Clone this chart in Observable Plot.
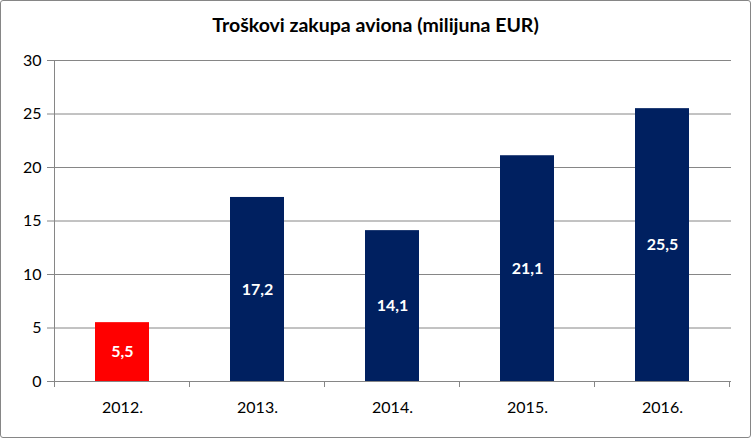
<!DOCTYPE html>
<html>
<head>
<meta charset="utf-8">
<script src="https://cdn.jsdelivr.net/npm/d3@7"></script>
<script src="https://cdn.jsdelivr.net/npm/@observablehq/plot@0.6"></script>
<style>
  body { margin: 0; background: #fff; }
  #wrap { position: relative; width: 751px; height: 438px; font-family: Lato, "Open Sans", sans-serif; }
  #title { position: absolute; top: 13px; left: 0; width: 751px; text-align: center; font-weight: bold; font-size: 19.5px; color: #000; }
  #frame { position: absolute; left: 0; top: 0; width: 749px; height: 436px; border: 1px solid #868686; border-radius: 3px; pointer-events: none; }
  #chart { position: absolute; left: 0; top: 0; }
</style>
</head>
<body>
<div id="wrap">
  <div id="chart"></div>
  <div id="title">Troškovi zakupa aviona (milijuna EUR)</div>
  <div id="frame"></div>
</div>
<script>
const years = ["2012.", "2013.", "2014.", "2015.", "2016."];
const values = [5.5, 17.2, 14.1, 21.1, 25.5];
const labels = ["5,5", "17,2", "14,1", "21,1", "25,5"];
const colors = ["#FF0000", "#002060", "#002060", "#002060", "#002060"];
const yTicks = [0, 5, 10, 15, 20, 25, 30];

const data = years.map((y, i) => ({year: y, value: values[i], label: labels[i], color: colors[i]}));

const chart = Plot.plot({
  width: 751,
  height: 438,
  marginLeft: 52,
  marginRight: 20,
  marginTop: 60,
  marginBottom: 57,
  style: {fontFamily: "Lato, 'Open Sans', sans-serif", fontSize: "16px", color: "#000", background: "transparent"},
  x: {domain: years, paddingInner: 0.6, paddingOuter: 0.3, label: null},
  y: {domain: [0, 30], label: null},
  marks: [
    Plot.gridY(yTicks, {stroke: "#868686", strokeOpacity: 1, strokeWidth: 1}),
    Plot.barY(data, {x: "year", y: "value", fill: "color"}),
    Plot.text(data, {x: "year", y: d => d.value / 2, text: "label", fill: "#fff", fontWeight: "bold", fontSize: 16}),
    Plot.axisY(yTicks, {tickSize: 5, tickPadding: 6, stroke: "#868686", fill: "#000", fontSize: 16, tickFormat: d => String(d)}),
    Plot.axisX({tickSize: 0, tickPadding: 20, fill: "#000", fontSize: 16})
  ]
});
document.getElementById("chart").appendChild(chart);

// y axis line and x category boundary ticks drawn via scales
const svg = d3.select(chart);
const xs = chart.scale("x");
const ys = chart.scale("y");
const step = xs.step;
const bounds = years.map(y => xs.apply(y) - step * 0.3).concat([xs.apply(years[years.length - 1]) + xs.bandwidth + step * 0.3]);
const x0 = bounds[0];
svg.append("line").attr("x1", x0).attr("x2", x0).attr("y1", ys.apply(30)).attr("y2", ys.apply(0)).attr("stroke", "#868686");
svg.selectAll("line.bt").data(bounds).join("line").attr("class", "bt")
  .attr("x1", d => d).attr("x2", d => d).attr("y1", ys.apply(0)).attr("y2", ys.apply(0) + 6).attr("stroke", "#868686");
</script>
</body>
</html>
